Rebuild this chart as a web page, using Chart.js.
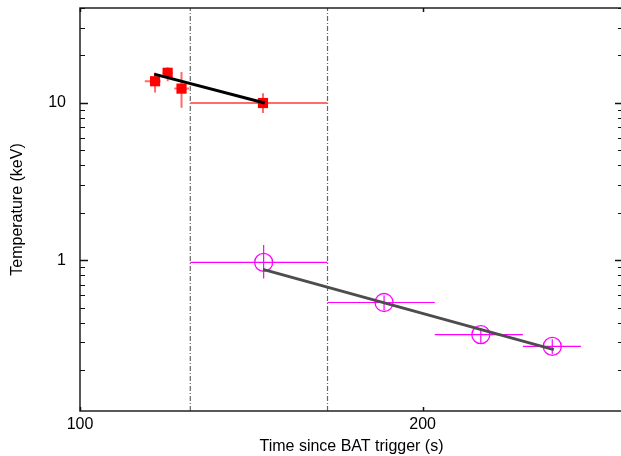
<!DOCTYPE html>
<html>
<head>
<meta charset="utf-8">
<script src="https://cdn.jsdelivr.net/npm/chart.js@4/dist/chart.umd.min.js"></script>
<style>
    html, body { margin: 0; padding: 0; background: #fff; overflow: hidden; }
    canvas { display: block; }
</style>
</head>
<body>
<canvas id="tempChart" width="623" height="456"></canvas>
<script>
// BAT-triggered burst: temperature vs time (log-log)
const xTickValues = [100, 200];
const yTickValues = [1, 10];
const xRange = [100, 300];
const yRange = [0.11, 40];

// red squares (early, hard component)
const hardTime = [116.4, 119.4, 122.8, 144.8];
const hardTimeLo = [114.0, 118.2, 121.0, 125];
const hardTimeHi = [117.7, 120.6, 124.7, 165];
const hardTemp = [13.7, 15.5, 12.3, 9.96];
const hardTempLo = [11.6, 13.7, 9.3, 8.6];
const hardTempHi = [15.5, 16.8, 15.7, 11.5];

// magenta circles (late, soft component)
const softTime = [145, 185, 225, 260];
const softTimeLo = [125, 165, 205, 245];
const softTimeHi = [165, 205, 245, 275.5];
const softTemp = [0.967, 0.538, 0.336, 0.283];
const softTempLo = [0.764, 0.48, 0.297, 0.252];
const softTempHi = [1.246, 0.598, 0.369, 0.314];

// power-law fits
const hardFitTime = [116.2, 145.3];
const hardFitTemp = [15.2, 9.96];
const softFitTime = [144.8, 260.8];
const softFitTemp = [0.873, 0.27];

// interval boundaries
const boundaries = [125, 165];

function errorBarPoints(xs, xlo, xhi, ys, ylo, yhi) {
    const pts = [];
    xs.forEach((x, i) => {
        pts.push({ x: xlo[i], y: ys[i] }, { x: xhi[i], y: ys[i] }, { x: x, y: null });
        pts.push({ x: x, y: ylo[i] }, { x: x, y: yhi[i] }, { x: x, y: null });
    });
    return pts;
}

function zip(xs, ys) {
    return xs.map((x, i) => ({ x: x, y: ys[i] }));
}

const boundaryData = [];
boundaries.forEach(b => {
    boundaryData.push({ x: b, y: yRange[0] }, { x: b, y: yRange[1] }, { x: b, y: null });
});

// no extra room for overhanging tick labels
function noLabelPadding(scale) {
    scale.paddingTop = 0;
    scale.paddingBottom = 0;
    scale.paddingLeft = 0;
    scale.paddingRight = 0;
}

// frame + inward ticks, like the original plot
const frameTicks = {
    id: 'frameTicks',
    afterDraw(chart) {
        const { ctx, chartArea: a, scales } = chart;
        const xs = scales.x, ys = scales.y;
        ctx.save();
        ctx.strokeStyle = '#222';
        ctx.lineWidth = 1.5;
        ctx.strokeRect(a.left, a.top, a.right - a.left, a.bottom - a.top);

        ctx.strokeStyle = '#111';
        const yMinor = [];
        for (let dec = 0.1; dec <= 10; dec *= 10) {
            for (let m = 1; m <= 9; m++) {
                const v = +(dec * m).toPrecision(3);
                if (v >= yRange[0] && v <= yRange[1]) yMinor.push(v);
            }
        }
        yMinor.forEach(v => {
            const major = yTickValues.includes(v);
            const len = major ? 8 : 5;
            const py = Math.round(ys.getPixelForValue(v)) + 0.5;
            ctx.lineWidth = major ? 1.5 : 1;
            ctx.beginPath();
            ctx.moveTo(a.left, py); ctx.lineTo(a.left + len, py);
            ctx.moveTo(a.right, py); ctx.lineTo(a.right - len, py);
            ctx.stroke();
        });
        xTickValues.forEach(v => {
            const px = Math.round(xs.getPixelForValue(v)) + 0.5;
            ctx.lineWidth = 1.5;
            ctx.beginPath();
            ctx.moveTo(px, a.bottom); ctx.lineTo(px, a.bottom - 4);
            ctx.moveTo(px, a.top); ctx.lineTo(px, a.top + 4);
            ctx.stroke();
        });
        ctx.restore();
    }
};

const ctx = document.getElementById('tempChart').getContext('2d');
new Chart(ctx, {
    type: 'line',
    data: {
        datasets: [
            {
                label: 'hard fit',
                data: zip(hardFitTime, hardFitTemp),
                borderColor: '#000',
                borderWidth: 3,
                pointRadius: 0,
                order: 0
            },
            {
                label: 'soft fit',
                data: zip(softFitTime, softFitTemp),
                borderColor: '#4d4d4d',
                borderWidth: 3,
                pointRadius: 0,
                order: 0
            },
            {
                label: 'hard',
                data: zip(hardTime, hardTemp),
                showLine: false,
                pointStyle: 'rect',
                pointRadius: 7.2,
                pointBackgroundColor: '#ff0000',
                pointBorderColor: '#ff0000',
                pointBorderWidth: 0,
                order: 1
            },
            {
                label: 'soft',
                data: zip(softTime, softTemp),
                showLine: false,
                pointStyle: 'circle',
                pointRadius: 9,
                pointBackgroundColor: 'rgba(0,0,0,0)',
                pointBorderColor: '#ff00ff',
                pointBorderWidth: 1.3,
                order: 1
            },
            {
                label: 'hard err',
                data: errorBarPoints(hardTime, hardTimeLo, hardTimeHi, hardTemp, hardTempLo, hardTempHi),
                borderColor: '#ff6a6a',
                borderWidth: 2,
                pointRadius: 0,
                spanGaps: false,
                order: 2
            },
            {
                label: 'soft err',
                data: errorBarPoints(softTime, softTimeLo, softTimeHi, softTemp, softTempLo, softTempHi),
                borderColor: '#ff00ff',
                borderWidth: 1.2,
                pointRadius: 0,
                spanGaps: false,
                order: 2
            },
            {
                label: 'boundaries',
                data: boundaryData,
                borderColor: '#666',
                borderWidth: 1.2,
                borderDash: [5, 2, 1, 2],
                pointRadius: 0,
                spanGaps: false,
                order: 3
            }
        ]
    },
    options: {
        responsive: false,
        maintainAspectRatio: false,
        animation: false,
        layout: { autoPadding: false, padding: { top: 8, right: 0, left: 0, bottom: 0 } },
        plugins: {
            legend: { display: false },
            tooltip: { enabled: false }
        },
        scales: {
            x: {
                type: 'logarithmic',
                min: xRange[0],
                max: xRange[1],
                afterBuildTicks: (scale) => { scale.ticks = xTickValues.map(v => ({ value: v })); },
                afterFit: (scale) => { scale.height = 45; noLabelPadding(scale); },
                ticks: {
                    autoSkip: false,
                    maxRotation: 0,
                    padding: 4,
                    color: '#000',
                    font: { family: 'Liberation Sans, Arial, sans-serif', size: 16 },
                    callback: (v) => String(v)
                },
                grid: { display: false, drawTicks: false },
                border: { display: false },
                title: {
                    display: true,
                    text: 'Time since BAT trigger (s)',
                    color: '#000',
                    padding: { top: 0, bottom: 0 },
                    font: { family: 'Liberation Sans, Arial, sans-serif', size: 16 }
                }
            },
            y: {
                type: 'logarithmic',
                min: yRange[0],
                max: yRange[1],
                afterBuildTicks: (scale) => { scale.ticks = yTickValues.map(v => ({ value: v })); },
                afterFit: (scale) => { scale.width = 80; noLabelPadding(scale); },
                ticks: {
                    autoSkip: false,
                    padding: 14,
                    color: '#000',
                    font: { family: 'Liberation Sans, Arial, sans-serif', size: 16 },
                    callback: (v) => String(v)
                },
                grid: { display: false, drawTicks: false },
                border: { display: false },
                title: {
                    display: true,
                    text: 'Temperature (keV)',
                    color: '#000',
                    padding: { top: 8, bottom: 0 },
                    font: { family: 'Liberation Sans, Arial, sans-serif', size: 16 }
                }
            }
        }
    },
    plugins: [frameTicks]
});
</script>
</body>
</html>
